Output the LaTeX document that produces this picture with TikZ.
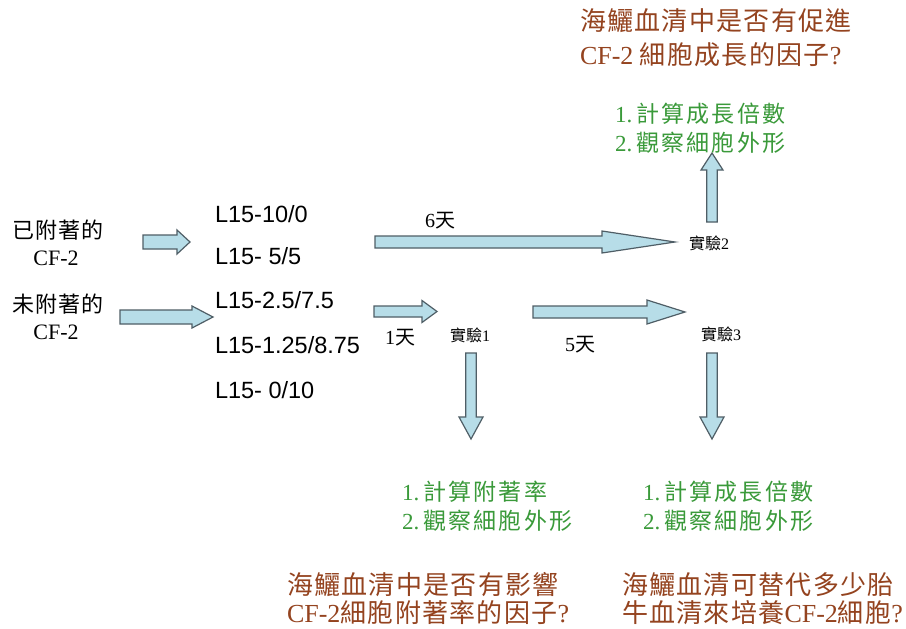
\documentclass[tikz,border=0pt]{standalone}
\usepackage{fontspec}
\setmainfont{Liberation Serif}
\newfontfamily\zh{Noto Sans CJK TC}
\newfontfamily\zhb[LetterSpace=5]{Noto Sans CJK TC}
\newfontfamily\zhg[LetterSpace=10]{Noto Sans CJK TC}
\newfontfamily\zhl[LetterSpace=4]{Noto Sans CJK TC}
\newfontfamily\arialf{Liberation Sans}
\definecolor{arrfill}{HTML}{B7DDE8}
\definecolor{arrline}{HTML}{4F5E66}
\definecolor{qbrown}{HTML}{94431F}
\definecolor{tgreen}{HTML}{3A9A3A}
\newcommand\fsz[1]{\fontsize{#1}{#1}\selectfont}
\newcommand\rarrow[6]{\draw[blockarrow] (#1,#3-#4) -- ({#2-(#6)},#3-#4) -- ({#2-(#6)},#3-#5) -- (#2,#3) -- ({#2-(#6)},#3+#5) -- ({#2-(#6)},#3+#4) -- (#1,#3+#4) -- cycle;}
\newcommand\varrow[6]{\draw[blockarrow] (#1-#4,#2) -- (#1-#4,{#3-(#6)}) -- (#1-#5,{#3-(#6)}) -- (#1,#3) -- (#1+#5,{#3-(#6)}) -- (#1+#4,{#3-(#6)}) -- (#1+#4,#2) -- cycle;}
\tikzset{
  blockarrow/.style={draw=arrline, fill=arrfill, line width=1.2pt, line join=miter},
  txt/.style={inner sep=0pt, outer sep=0pt},
  lefttxt/.style={txt, font=\fsz{22}},
  mix/.style={txt, font=\fsz{23.5}\arialf, anchor=west},
  days/.style={txt, font=\fsz{20}},
  expt/.style={txt, font=\fsz{16}},
  gtxt/.style={txt, font=\fsz{23}, text=tgreen, anchor=west},
  btxt/.style={txt, font=\fsz{26}, text=qbrown, anchor=west}
}
\begin{document}
\begin{tikzpicture}[x=1pt,y=-1pt]
\fill[white] (0,0) rectangle (906,629);
\useasboundingbox (0,0) rectangle (906,629);

% left labels
\node[lefttxt] (att1) at (58,230) {\zhl 已附著的};
\node[lefttxt] (att2) at (56,258) {CF-2};
\node[lefttxt] (un1) at (58,304) {\zhl 未附著的};
\node[lefttxt] (un2) at (56,332) {CF-2};

% medium list
\node[mix] (m1) at (215,214) {L15-10/0};
\node[mix] (m2) at (215,256) {L15- 5/5};
\node[mix] (m3) at (215,300) {L15-2.5/7.5};
\node[mix] (m4) at (215,345) {L15-1.25/8.75};
\node[mix] (m5) at (215,390) {L15- 0/10};

% arrows
\rarrow{143}{190}{242}{7}{12}{13}
\rarrow{120}{213}{317}{7}{11}{21}
\rarrow{375}{675}{242}{6}{11}{73}
\rarrow{374}{437}{311.5}{5.5}{11}{15}
\rarrow{533}{685}{312}{6}{12}{38}
\varrow{712}{222}{153}{5.3}{11}{-17}
\varrow{471}{353}{439}{5.3}{12}{22}
\varrow{712}{353}{439}{5.3}{12}{22}

% day labels
\node[days] (d6) at (440,221) {6{\zh 天}};
\node[days] (d1) at (400,338) {1{\zh 天}};
\node[days] (d5) at (580,345) {5{\zh 天}};

% experiments
\node[expt] (e1) at (470,335) {{\zh 實驗}1};
\node[expt] (e2) at (709,243) {{\zh 實驗}2};
\node[expt] (e3) at (721,334) {{\zh 實驗}3};

% green texts
\node[gtxt] (gt1) at (615,114) {1.\,{\zhg 計算成長倍數}};
\node[gtxt] (gt2) at (615,143) {2.\,{\zhg 觀察細胞外形}};
\node[gtxt] (gl1) at (402,492) {1.\,{\zhg 計算附著率}};
\node[gtxt] (gl2) at (402,521) {2.\,{\zhg 觀察細胞外形}};
\node[gtxt] (gr1) at (643,492) {1.\,{\zhg 計算成長倍數}};
\node[gtxt] (gr2) at (643,521) {2.\,{\zhg 觀察細胞外形}};

% brown questions
\node[btxt] (qt1) at (580,21) {\zhb 海鱺血清中是否有促進};
\node[btxt] (qt2) at (580,55) {CF-2 {\zhb 細胞成長的因子}?};
\node[btxt] (ql1) at (287,585) {\zhb 海鱺血清中是否有影響};
\node[btxt] (ql2) at (287,613) {CF-2{\zhb 細胞附著率的因子}?};
\node[btxt] (qr1) at (622,585) {\zhb 海鱺血清可替代多少胎};
\node[btxt] (qr2) at (622,613) {{\zhb 牛血清來培養}CF-2{\zhb 細胞}?};
\end{tikzpicture}
\end{document}
